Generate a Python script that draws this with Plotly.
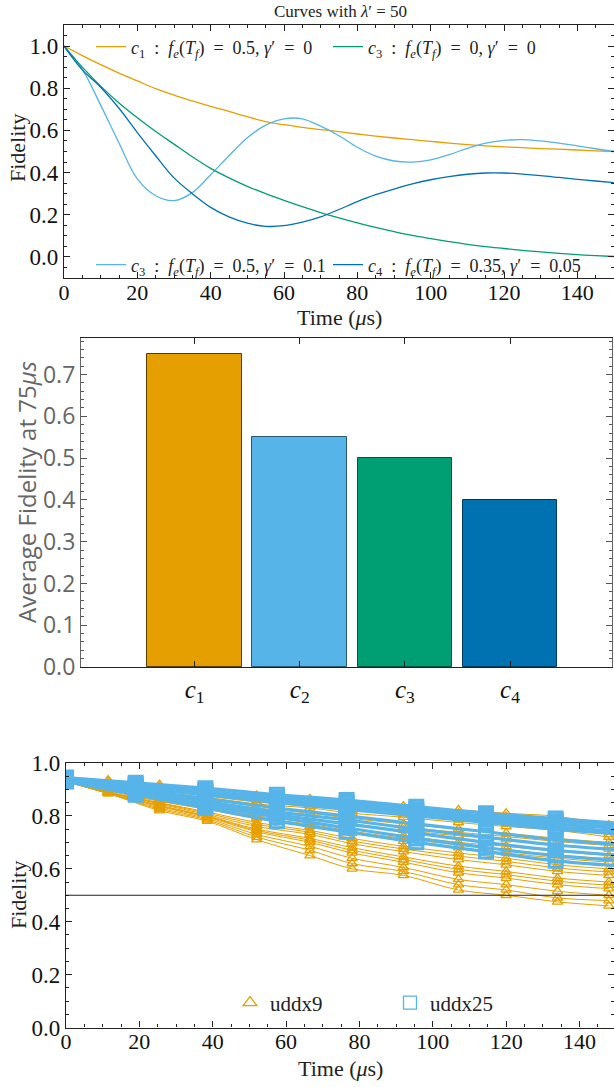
import plotly.graph_objects as go

W, H = 614, 1087
def PX(p):
    return p / W
def PY(p):
    return 1 - p / H

SERIF = "Liberation Serif, DejaVu Serif, serif"
SANS = "Open Sans, Noto Sans, sans-serif"
ORANGE = "#E69F00"
SKY = "#56B4E9"
GREEN = "#009E73"
BLUE = "#0072B2"
NB = "\u00a0"

# ---------------- Panel 1: curves ----------------
t_curve = [0, 5, 10, 15, 20, 25, 30, 35, 40, 45, 50, 55, 60, 65, 70, 75,
           80, 85, 90, 95, 100, 105, 110, 115, 120, 125, 130, 135, 140, 145, 150]
c1_vals = [1.0, 0.955, 0.912, 0.872, 0.835, 0.798, 0.767, 0.740, 0.714, 0.690, 0.665,
           0.642, 0.627, 0.614, 0.604, 0.594, 0.583, 0.573, 0.564, 0.556, 0.548,
           0.540, 0.533, 0.527, 0.522, 0.518, 0.514, 0.511, 0.507, 0.503, 0.500]
c2_vals = [1.0, 0.89, 0.72, 0.54, 0.37, 0.29, 0.267, 0.305, 0.39, 0.48, 0.565,
           0.625, 0.655, 0.655, 0.62, 0.575, 0.52, 0.478, 0.455, 0.45, 0.46,
           0.485, 0.515, 0.54, 0.553, 0.556, 0.55, 0.54, 0.527, 0.513, 0.50]
c3_vals = [1.0, 0.90, 0.81, 0.73, 0.66, 0.595, 0.535, 0.475, 0.42, 0.375, 0.335,
           0.30, 0.268, 0.238, 0.21, 0.185, 0.162, 0.14, 0.12, 0.102, 0.087,
           0.073, 0.06, 0.049, 0.04, 0.031, 0.024, 0.017, 0.011, 0.006, 0.002]
c4_vals = [1.0, 0.887, 0.805, 0.705, 0.59, 0.48, 0.375, 0.30, 0.235, 0.19, 0.16,
           0.145, 0.148, 0.165, 0.19, 0.225, 0.262, 0.295, 0.322, 0.346, 0.366,
           0.381, 0.392, 0.398, 0.398, 0.393, 0.386, 0.377, 0.368, 0.36, 0.352]

def leg_label(idx, fe, gam):
    return (f"<i>c</i><sub>{idx}</sub>{NB}{NB}:{NB}{NB}<i>f<sub>e</sub></i>(<i>T<sub>f</sub></i>)"
            f"{NB}{NB}={NB}{NB}{fe},{NB}<i>γ</i>′{NB}{NB}={NB}{NB}{gam}")

curve_names = [leg_label(1, "0.5", "0"), leg_label(3, "0.5", "0.1"),
               leg_label(3, "0", "0"), leg_label(4, "0.35", "0.05")]

# ---------------- Panel 2: bars ----------------
bar_pos = [1, 2, 3, 4]
bar_labels = ["<i>c</i><sub>1</sub>", "<i>c</i><sub>2</sub>", "<i>c</i><sub>3</sub>", "<i>c</i><sub>4</sub>"]
bar_vals = [0.75, 0.55, 0.50, 0.40]

# ---------------- Panel 3: uddx experiments ----------------
t_uddx9 = [0, 11.5, 25.5, 38.5, 52, 66.5, 78, 92, 107, 120, 134, 148]
uddx9_series = [
    [0.935, 0.935, 0.918, 0.897, 0.877, 0.865, 0.852, 0.837, 0.823, 0.81, 0.798, 0.765],
    [0.935, 0.93, 0.91, 0.89, 0.87, 0.855, 0.84, 0.826, 0.81, 0.797, 0.783, 0.755],
    [0.935, 0.92, 0.90, 0.88, 0.86, 0.845, 0.83, 0.815, 0.80, 0.785, 0.77, 0.74],
    [0.935, 0.918, 0.895, 0.875, 0.852, 0.838, 0.82, 0.805, 0.787, 0.772, 0.757, 0.73],
    [0.935, 0.915, 0.89, 0.87, 0.845, 0.83, 0.81, 0.795, 0.775, 0.76, 0.745, 0.72],
    [0.935, 0.91, 0.88, 0.855, 0.83, 0.81, 0.79, 0.77, 0.75, 0.735, 0.715, 0.70],
    [0.93, 0.905, 0.875, 0.85, 0.822, 0.80, 0.78, 0.758, 0.738, 0.722, 0.703, 0.688],
    [0.93, 0.905, 0.87, 0.845, 0.815, 0.79, 0.77, 0.745, 0.725, 0.71, 0.69, 0.675],
    [0.93, 0.90, 0.86, 0.835, 0.80, 0.775, 0.75, 0.725, 0.70, 0.685, 0.665, 0.65],
    [0.93, 0.90, 0.858, 0.83, 0.795, 0.768, 0.742, 0.715, 0.69, 0.672, 0.652, 0.638],
    [0.93, 0.895, 0.855, 0.825, 0.79, 0.76, 0.735, 0.705, 0.68, 0.66, 0.64, 0.625],
    [0.93, 0.89, 0.85, 0.815, 0.775, 0.745, 0.715, 0.685, 0.66, 0.64, 0.615, 0.60],
    [0.93, 0.89, 0.848, 0.81, 0.768, 0.738, 0.705, 0.675, 0.648, 0.628, 0.603, 0.588],
    [0.93, 0.89, 0.845, 0.805, 0.76, 0.73, 0.695, 0.665, 0.635, 0.615, 0.59, 0.575],
    [0.93, 0.89, 0.84, 0.80, 0.75, 0.715, 0.68, 0.645, 0.61, 0.59, 0.565, 0.55],
    [0.93, 0.888, 0.838, 0.798, 0.745, 0.708, 0.67, 0.635, 0.598, 0.578, 0.553, 0.538],
    [0.93, 0.885, 0.835, 0.795, 0.74, 0.70, 0.66, 0.625, 0.585, 0.565, 0.54, 0.525],
    [0.93, 0.885, 0.83, 0.79, 0.73, 0.685, 0.64, 0.605, 0.56, 0.54, 0.515, 0.50],
    [0.93, 0.885, 0.825, 0.785, 0.72, 0.67, 0.62, 0.59, 0.54, 0.52, 0.49, 0.48],
    [0.93, 0.885, 0.82, 0.78, 0.71, 0.65, 0.60, 0.575, 0.52, 0.50, 0.475, 0.46],
]
t_uddx25 = [0, 19, 38, 57.5, 76.5, 95.5, 114.5, 133.5, 152.5]
uddx25_series = [
    [0.945, 0.925, 0.905, 0.88, 0.86, 0.835, 0.81, 0.79, 0.77],
    [0.94, 0.92, 0.895, 0.87, 0.85, 0.825, 0.80, 0.78, 0.76],
    [0.94, 0.915, 0.89, 0.865, 0.84, 0.815, 0.79, 0.77, 0.75],
    [0.94, 0.91, 0.885, 0.86, 0.835, 0.81, 0.785, 0.76, 0.74],
    [0.935, 0.905, 0.88, 0.85, 0.825, 0.80, 0.775, 0.75, 0.73],
    [0.94, 0.90, 0.865, 0.83, 0.80, 0.77, 0.74, 0.71, 0.69],
    [0.94, 0.895, 0.855, 0.815, 0.785, 0.75, 0.72, 0.69, 0.67],
    [0.935, 0.89, 0.85, 0.805, 0.77, 0.735, 0.70, 0.67, 0.65],
    [0.935, 0.885, 0.84, 0.795, 0.755, 0.715, 0.68, 0.65, 0.63],
    [0.93, 0.88, 0.83, 0.78, 0.74, 0.70, 0.665, 0.63, 0.61],
]
threshold = 0.5

fig = go.Figure()

# Panel 1 traces
curve_data = [(c1_vals, ORANGE, "legend"), (c2_vals, SKY, "legend3"),
              (c3_vals, GREEN, "legend2"), (c4_vals, BLUE, "legend4")]
for (vals, col, lg), name in zip(curve_data, curve_names):
    fig.add_trace(go.Scatter(x=t_curve, y=vals, mode="lines", name=name,
                             line=dict(color=col, width=1.3, shape="spline"),
                             xaxis="x", yaxis="y", legend=lg))

# Panel 2 bars
fig.add_trace(go.Bar(x=bar_pos, y=bar_vals, width=0.9,
                     marker=dict(color=[ORANGE, SKY, GREEN, BLUE],
                                 line=dict(color=["#5c3d00", "#2a5872", "#00553d", "#003a5e"], width=1)),
                     xaxis="x2", yaxis="y2", showlegend=False))

# Panel 3
for s in uddx9_series:
    fig.add_trace(go.Scatter(x=t_uddx9, y=s, mode="lines+markers",
                             line=dict(color=ORANGE, width=1, shape="spline"),
                             marker=dict(symbol="triangle-up-open", size=9, color=ORANGE,
                                         line=dict(width=1.3, color=ORANGE)),
                             xaxis="x3", yaxis="y3", showlegend=False))
for s in uddx25_series:
    fig.add_trace(go.Scatter(x=t_uddx25, y=s, mode="lines+markers",
                             line=dict(color=SKY, width=3.2, shape="spline"),
                             marker=dict(symbol="square-open", size=13, color=SKY,
                                         line=dict(width=3, color=SKY)),
                             xaxis="x3", yaxis="y3", showlegend=False))
fig.add_trace(go.Scatter(x=[None], y=[None], mode="markers", name="uddx9",
                         marker=dict(symbol="triangle-up-open", size=12, color=ORANGE,
                                     line=dict(width=1.3, color=ORANGE)),
                         xaxis="x3", yaxis="y3", legend="legend5"))
fig.add_trace(go.Scatter(x=[None], y=[None], mode="markers", name="uddx25",
                         marker=dict(symbol="square-open", size=13, color=SKY,
                                     line=dict(width=1.3, color=SKY)),
                         xaxis="x3", yaxis="y3", legend="legend6"))

fig.add_shape(type="line", xref="x3 domain", yref="y3", x0=0, x1=1, y0=threshold, y1=threshold,
              line=dict(color="#222", width=1.2))

AX = "#222"
def lin_axis(domain, rng, dtick, mdtick, anchor, fontsize=23, color=AX, standoff=0):
    return dict(domain=domain, range=rng, anchor=anchor, showgrid=False, zeroline=False,
                automargin=False,
                showline=True, linecolor=color, linewidth=1.2, mirror="ticks",
                ticks="inside", ticklen=6, tickwidth=1, tickcolor=color, dtick=dtick, tick0=0,
                minor=dict(ticks="inside", ticklen=3, dtick=mdtick, tickcolor=color, showgrid=False),
                tickfont=dict(family=SERIF, size=fontsize, color="#111"),
                ticklabelstandoff=standoff)

xa1 = lin_axis([PX(64), 1.0], [0, 150], 20, 5, "y", fontsize=22, standoff=-6)
ya1 = lin_axis([PY(278), PY(25)], [-0.1, 1.1], 0.2, 0.05, "x")
ya1["tickformat"] = ".1f"
xa3 = lin_axis([PX(66), 1.0], [0, 149.4], 20, 5, "y3", fontsize=22, standoff=-6)
ya3 = lin_axis([PY(1027.5), PY(763)], [0, 1.0], 0.2, 0.05, "x3")
ya3["tickformat"] = ".1f"

xa2 = dict(domain=[PX(81), PX(612)], range=[-0.08, 4.97], anchor="y2", showgrid=False,
           zeroline=False, showline=True, linecolor=AX, linewidth=1.2, mirror="ticks",
           automargin=False,
           ticks="inside", ticklen=6, tickcolor=AX, tickvals=bar_pos, ticktext=bar_labels,
           tickfont=dict(family=SERIF, size=25, color="#111"), ticklabelstandoff=0)
ya2 = dict(domain=[PY(667), PY(338)], range=[0, 0.7875], anchor="x2", showgrid=False,
           zeroline=False, showline=True, linecolor="#666", linewidth=1.2, mirror="ticks",
           automargin=False,
           ticks="inside", ticklen=6, tickcolor="#555", dtick=0.1, tick0=0, tickformat=".1f",
           minor=dict(ticks="inside", ticklen=3, dtick=0.02, tickcolor="#555"),
           tickfont=dict(family=SANS, size=23, color="#666"))

def leg(x, y):
    return dict(x=PX(x), y=PY(y), xanchor="left", yanchor="middle", bgcolor="rgba(0,0,0,0)",
                font=dict(family=SERIF, size=18, color="#222"), itemwidth=30,
                orientation="h")

ann = [
    dict(text="Curves with <i>λ</i>′ = 50", x=PX(340), y=PY(12), font=dict(family=SERIF, size=17, color="#222")),
    dict(text="Fidelity", x=PX(18), y=PY(148), textangle=-90, font=dict(family=SERIF, size=22, color="#222")),
    dict(text="Time (<i>μ</i>s)", x=PX(339), y=PY(318), font=dict(family=SERIF, size=22, color="#222")),
    dict(text="Average Fidelity at 75<i>μs</i>", x=PX(26), y=PY(492), textangle=-90,
         font=dict(family=SANS, size=24, color="#666")),
    dict(text="Fidelity", x=PX(18), y=PY(895), textangle=-90, font=dict(family=SERIF, size=22, color="#222")),
    dict(text="Time (<i>μ</i>s)", x=PX(340), y=PY(1068), font=dict(family=SERIF, size=22, color="#222")),
]
for a in ann:
    a.update(xref="paper", yref="paper", showarrow=False, xanchor="center", yanchor="middle")

fig.update_layout(
    width=W, height=H, margin=dict(l=0, r=0, t=0, b=0, autoexpand=False),
    plot_bgcolor="white", paper_bgcolor="white",
    xaxis=xa1, yaxis=ya1, xaxis2=xa2, yaxis2=ya2, xaxis3=xa3, yaxis3=ya3,
    legend=leg(91, 47), legend2=leg(328, 47), legend3=leg(91, 265), legend4=leg(328, 265),
    legend5=dict(x=PX(230), y=PY(1003), xanchor="left", yanchor="middle", bgcolor="rgba(0,0,0,0)",
                 font=dict(family=SERIF, size=21, color="#222"), itemwidth=30),
    legend6=dict(x=PX(390), y=PY(1003), xanchor="left", yanchor="middle", bgcolor="rgba(0,0,0,0)",
                 font=dict(family=SERIF, size=21, color="#222"), itemwidth=30),
    annotations=ann, bargap=0,
)

fig.write_html("out.html", config={"displayModeBar": False},
               post_script="document.body.style.margin='0';document.body.style.overflow='hidden';")
